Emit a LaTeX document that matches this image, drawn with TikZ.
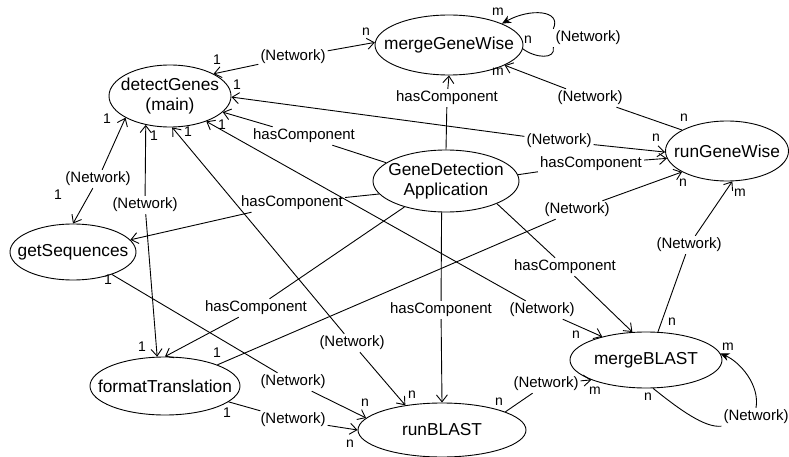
\documentclass[tikz,border=0pt]{standalone}
\usepackage{fontspec}
\setmainfont{Liberation Sans}
\usetikzlibrary{shapes.geometric,arrows.meta}

\begin{document}
\begin{tikzpicture}[x=1pt,y=-1pt,
  ent/.style 2 args={draw, ellipse, line width=0.9pt, minimum width=#1, minimum height=#2, inner sep=0pt},
  ntext/.style={font=\fontsize{17.3}{20.5}\selectfont, align=center, inner sep=0pt},
  lbl/.style={font=\fontsize{15}{18}\selectfont, fill=white, inner sep=2pt},
  mul/.style={font=\fontsize{14}{16}\selectfont, inner sep=0pt},
  conn/.style={line width=0.9pt, draw=black},
  oneway/.style={conn, -{Straight Barb[length=7pt,width=11pt]}},
  selfarrow/.style={conn, -{Stealth[length=9pt,width=8pt]}}]

\useasboundingbox (0,0) rectangle (789,457);

% components
\node[ent={122pt}{62pt}, label={[ntext]center:{detectGenes\\(main)}}] (dg) at (170,96) {};
\node[ent={148pt}{60pt}, label={[ntext]center:mergeGeneWise}] (mgw) at (449,45) {};
\node[ent={123pt}{60pt}, label={[ntext]center:runGeneWise}] (rgw) at (727,151) {};
\node[ent={146pt}{62pt}, label={[ntext]center:{GeneDetection\\Application}}] (gda) at (446,181) {};
\node[ent={126pt}{56pt}, label={[ntext]center:getSequences}] (gs) at (73,252) {};
\node[ent={150pt}{58pt}, label={[ntext]center:formatTranslation}] (ft) at (165,386) {};
\node[ent={168pt}{54pt}, label={[ntext]center:runBLAST}] (rb) at (442,430) {};
\node[ent={152pt}{56pt}, label={[ntext]center:mergeBLAST}] (mb) at (646,360) {};

% edge labels
\node[lbl] (L1) at (293,57) {(Network)};
\node[lbl] (L2) at (559,141) {(Network)};
\node[lbl] (L3) at (304,136) {hasComponent};
\node[lbl] (L4) at (447,98) {hasComponent};
\node[lbl] (L5) at (591,164) {hasComponent};
\node[lbl] (L6) at (292,203) {hasComponent};
\node[lbl] (L7) at (256,308) {hasComponent};
\node[lbl] (L8) at (441,310) {hasComponent};
\node[lbl] (L9) at (565,267) {hasComponent};
\node[lbl] (L10) at (98,179) {(Network)};
\node[lbl] (L11) at (145,205) {(Network)};
\node[lbl] (L12) at (352,343) {(Network)};
\node[lbl] (L13) at (542,310) {(Network)};
\node[lbl] (L14) at (293,382) {(Network)};
\node[lbl] (L15) at (293,420) {(Network)};
\node[lbl] (L16) at (577,210) {(Network)};
\node[lbl] (L17) at (546,384) {(Network)};
\node[lbl] (L18) at (689,245) {(Network)};
\node[lbl] (L19) at (590,98) {(Network)};
\node[lbl] (L20) at (588,38) {(Network)};
\node[lbl] (L21) at (756,417) {(Network)};

% hasComponent links
\draw[oneway] (gda.163) -- (L3) -- (dg.-17);
\draw[oneway] (gda.90) -- (L4) -- (mgw.270);
\draw[oneway] (gda.5) -- (L5) -- (rgw.187);
\draw[oneway] (gda.191) -- (L6) -- (gs.12);
\draw[oneway] (gda.212) -- (L7) -- (ft.90);
\draw[oneway] (gda.262) -- (L8) -- (rb.90);
\draw[oneway] (gda.-24) -- (L9) -- (mb.116);

% network links, both ends pointing (drawn out from the label)
\draw[oneway] (L1) -- (dg.27);   \draw[oneway] (L1) -- (mgw.178);
\draw[oneway] (L2) -- (dg.-1);   \draw[oneway] (L2) -- (rgw.181);
\draw[oneway] (L10) -- (dg.206); \draw[oneway] (L10) -- (gs.90);
\draw[oneway] (L11) -- (dg.230); \draw[oneway] (L11) -- (ft.105);
\draw[oneway] (L12) -- (dg.274); \draw[oneway] (L12) -- (rb.146);
\draw[oneway] (L13) -- (dg.-35); \draw[oneway] (L13) -- (mb.152);

% network links, one end pointing
\draw[oneway] (gs.-30) -- (L14) -- (rb.171);
\draw[oneway] (ft.-14) -- (L15) -- (rb.180);
\draw[oneway] (ft.22) -- (L16) -- (rgw.205);
\draw[oneway] (rb.16) -- (L17) -- (mb.200);
\draw[oneway] (mb.67) -- (L18) -- (rgw.280);
\draw[oneway] (rgw.155) -- (L19) -- (mgw.-20);

% self links
\draw[conn] (mgw.-3) .. controls (535,58) and (556,60) .. (L20.south west);
\draw[selfarrow] (L20.north west) .. controls (562,10) and (530,8) .. (mgw.22);
\draw[conn] (mb.-76) .. controls (680,410) and (705,428) .. (L21.south west);
\draw[selfarrow] (L21.north) .. controls (760,385) and (740,362) .. (mb.5);

% multiplicities
\node[mul] (a1) at (217,60) {1};
\node[mul] (a2) at (366,32) {n};
\node[mul] (b1) at (237,85) {1};
\node[mul] (b2) at (656,138) {n};
\node[mul] (c1) at (107,119) {1};
\node[mul] (c2) at (58,195) {1};
\node[mul] (d1) at (154,136) {1};
\node[mul] (d2) at (142,347) {1};
\node[mul] (e1) at (188,132) {1};
\node[mul] (e2) at (412,395) {n};
\node[mul] (f1) at (222,125) {1};
\node[mul] (f2) at (576,335) {n};
\node[mul] (g1) at (108,280) {1};
\node[mul] (g2) at (365,403) {n};
\node[mul] (h1) at (227,413) {1};
\node[mul] (h2) at (350,444) {n};
\node[mul] (i1) at (217,353) {1};
\node[mul] (i2) at (683,183) {n};
\node[mul] (j1) at (499,402) {n};
\node[mul] (j2) at (595,391) {m};
\node[mul] (k1) at (672,322) {n};
\node[mul] (k2) at (740,193) {m};
\node[mul] (l1) at (684,118) {n};
\node[mul] (l2) at (498,72) {m};
\node[mul] (p1) at (528,40) {n};
\node[mul] (p2) at (498,12) {m};
\node[mul] (q1) at (648,397) {n};
\node[mul] (q2) at (728,347) {m};
\end{tikzpicture}
\end{document}
